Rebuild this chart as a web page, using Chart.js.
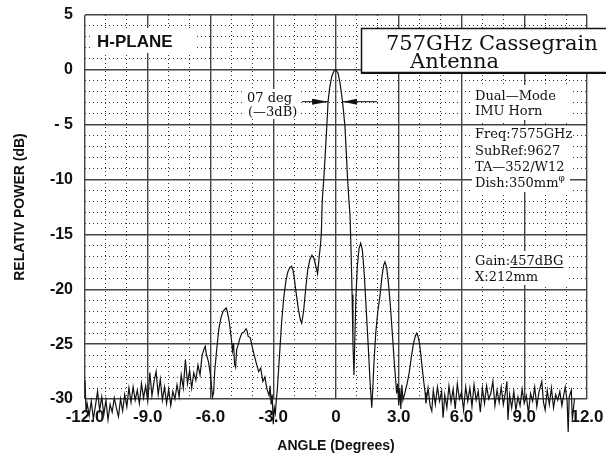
<!DOCTYPE html>
<html>
<head>
<meta charset="utf-8">
<script src="https://cdn.jsdelivr.net/npm/chart.js@4.4.1/dist/chart.umd.min.js"></script>
<style>
  html, body { margin: 0; padding: 0; background: #fff; }
</style>
</head>
<body>
<canvas id="pattern" width="606" height="460"></canvas>
<script>
// ---- data ----
const angleDeg = [
  -12.0, -11.95, -11.9, -11.8, -11.7, -11.6, -11.5, -11.4, -11.3, -11.2, -11.1, -11.0,
  -10.9, -10.8, -10.7, -10.6, -10.5, -10.4, -10.3, -10.2, -10.1, -10.0,
  -9.9, -9.8, -9.7, -9.6, -9.5, -9.4, -9.3, -9.2, -9.1, -9.0,
  -8.9, -8.8, -8.7, -8.6, -8.5, -8.4, -8.3, -8.2, -8.1, -8.0,
  -7.9, -7.8, -7.7, -7.6, -7.5, -7.4, -7.3, -7.2, -7.1, -7.0,
  -6.9, -6.8, -6.7, -6.6, -6.5, -6.4, -6.3, -6.25, -6.2, -6.1, -6.0,
  -5.95, -5.9, -5.85, -5.8, -5.7, -5.6, -5.5, -5.4, -5.3, -5.25, -5.2, -5.1, -5.0,
  -4.95, -4.9, -4.85, -4.8, -4.75, -4.7, -4.6, -4.5, -4.4, -4.3, -4.25, -4.2, -4.1, -4.0,
  -3.9, -3.8, -3.7, -3.6, -3.5, -3.4, -3.3, -3.2, -3.15, -3.1, -3.05, -3.0,
  -2.95, -2.9, -2.85, -2.8, -2.7, -2.6, -2.5, -2.4, -2.3, -2.2, -2.12, -2.05, -2.0,
  -1.9, -1.8, -1.7, -1.64, -1.55, -1.45, -1.35, -1.25, -1.15, -1.05,
  -0.95, -0.88, -0.8, -0.74, -0.7, -0.66, -0.58, -0.5, -0.43, -0.38, -0.3, -0.2, -0.1,
  0.0, 0.1, 0.2, 0.3, 0.35, 0.43, 0.55, 0.62, 0.67, 0.72, 0.77, 0.81, 0.86,
  0.9, 0.95, 1.02, 1.1, 1.18, 1.26, 1.35, 1.45, 1.55, 1.63, 1.71, 1.76, 1.82, 1.9,
  2.0, 2.1, 2.2, 2.28, 2.34, 2.42, 2.5, 2.6, 2.7, 2.8, 2.9, 2.95,
  3.0, 3.05, 3.1, 3.15, 3.2, 3.3, 3.4, 3.5, 3.6, 3.7, 3.8, 3.86, 3.92,
  4.0, 4.1, 4.2, 4.26, 4.3, 4.4, 4.5, 4.58, 4.65, 4.75, 4.85, 4.95,
  5.05, 5.12, 5.2, 5.3, 5.4, 5.5, 5.6, 5.7, 5.8, 5.9,
  6.0, 6.1, 6.2, 6.3, 6.4, 6.5, 6.6, 6.7, 6.8, 6.9,
  7.0, 7.1, 7.2, 7.3, 7.4, 7.5, 7.6, 7.7, 7.8, 7.9,
  8.0, 8.1, 8.17, 8.22, 8.3, 8.4, 8.5, 8.6, 8.7, 8.8, 8.9,
  9.0, 9.1, 9.2, 9.3, 9.4, 9.5, 9.6, 9.7, 9.84, 9.92,
  10.0, 10.1, 10.2, 10.3, 10.4, 10.5, 10.6, 10.7, 10.8, 10.9, 10.96,
  11.05, 11.1, 11.15, 11.25, 11.3, 11.4
];
const powerDb = [
  -28.3, -31.2, -30.4, -31.5, -30.2, -31.8, -30.6, -29.3, -31.0, -29.8, -31.4, -30.1,
  -31.9, -30.5, -31.2, -29.9, -30.8, -31.6, -30.0, -31.1, -29.6, -30.7,
  -29.0, -30.3, -28.9, -30.1, -29.2, -30.4, -28.6, -29.9, -28.8, -30.2,
  -27.6, -29.7, -28.4, -27.5, -29.6, -28.2, -30.1, -28.9, -30.4, -29.1,
  -30.6, -29.3, -30.0, -28.7, -29.8, -27.8, -29.0, -26.4, -28.6, -27.4,
  -29.0, -27.6, -28.3, -26.9, -27.8, -26.0, -25.4, -25.2, -25.9, -26.6, -27.8,
  -28.9, -29.8, -29.4, -27.5, -25.4, -23.6, -22.6, -22.0, -21.8, -21.7, -22.0, -23.0, -24.6,
  -25.6, -24.9, -26.8, -27.1, -25.5, -25.2, -24.5, -24.0, -23.9, -23.6, -23.8, -24.3, -24.4, -25.3,
  -26.1, -26.8, -27.5, -27.2, -28.4, -28.0, -29.1, -29.7, -28.8, -30.5, -29.6, -32.3,
  -30.8, -31.3, -30.0, -29.0, -26.0, -23.0, -20.8, -19.3, -18.4, -18.0, -17.9, -18.3, -18.9,
  -20.4, -21.8, -22.8, -23.1, -22.0, -20.0, -18.2, -17.3, -16.9, -17.2,
  -18.0, -18.6, -17.0, -15.9, -14.9, -12.0, -9.8, -7.2, -4.8, -2.9, -1.6, -0.6, -0.1,
  0.0, -0.3, -1.3, -2.7, -3.6, -5.2, -9.8, -12.0, -13.2, -16.5, -20.5, -24.9, -27.8,
  -24.5, -20.8, -17.9, -16.3, -15.8, -16.4, -18.6, -22.0, -25.5, -28.5, -30.8, -29.0, -26.5, -24.0,
  -22.0, -20.6, -18.8, -17.8, -17.5, -18.0, -19.3, -21.5, -24.2, -27.0, -29.5, -28.6,
  -30.6, -29.0, -30.9, -28.7, -30.1, -29.4, -28.6, -27.6, -26.2, -25.0, -24.2, -24.0, -24.3,
  -25.0, -26.8, -28.5, -29.4, -30.4, -29.0, -30.6, -31.1, -29.2, -30.5, -28.9, -30.2,
  -29.3, -31.7, -29.6, -30.8, -28.8, -30.3, -29.1, -30.9, -28.6, -30.0,
  -29.4, -31.0, -28.9, -30.2, -29.0, -30.7, -28.7, -30.1, -29.3, -31.2,
  -29.0, -30.4, -28.8, -30.0, -29.5, -28.4, -30.6, -29.2, -30.3, -28.9,
  -30.5, -29.4, -28.4, -31.9, -29.6, -30.8, -29.3, -31.0, -29.8, -30.6, -29.1,
  -30.4, -29.7, -31.3, -29.5, -30.2, -28.9, -30.7, -29.4, -28.4, -30.3,
  -31.0, -29.2, -30.5, -29.0, -30.8, -29.6, -30.1, -29.3, -30.6, -29.5, -28.9,
  -30.2, -33.0, -29.8, -29.2, -31.9, -30.0
];
const xTickValues = [-12, -9, -6, -3, 0, 3, 6, 9, 12];
const xTickLabels = ['-12.0', '-9.0', '-6.0', '-3.0', '0', '3.0', '6.0', '9.0', '12.0'];
const yTickValues = [5, 0, -5, -10, -15, -20, -25, -30];
const yTickLabels = ['5', '0', '- 5', '-10', '-15', '-20', '-25', '-30'];

const sans = 'Arial, "Liberation Sans", sans-serif';
const serif = '"DejaVu Serif", "Liberation Serif", serif';

// text blocks printed on the plot
const notesPlugin = {
  id: 'notes',
  beforeDatasetsDraw(chart) {
    const c = chart.ctx;
    c.save();
    c.fillStyle = '#fff';
    c.fillRect(93, 28, 102, 25);    // H-PLANE
    c.fillRect(245, 89, 54, 30);    // 07 deg
    c.fillRect(472, 85, 98, 35);    // Dual-Mode
    c.fillRect(472, 126, 98, 66);   // Freq...
    c.fillRect(472, 251, 96, 34);   // Gain
    c.restore();
  },
  afterDatasetsDraw(chart) {
    const c = chart.ctx;
    const { x, y } = chart.scales;
    c.save();

    c.fillStyle = '#111';
    c.font = 'bold 17px ' + sans;
    c.textBaseline = 'alphabetic';
    c.fillText('H-PLANE', 97, 47);

    // title box
    c.fillStyle = '#fff';
    c.fillRect(361, 28, 250, 45);
    c.strokeStyle = '#111';
    c.lineWidth = 1.5;
    c.strokeRect(361.5, 28.5, 250, 44);
    c.fillStyle = '#111';
    c.fillRect(361, 72, 250, 2);
    c.font = '21px ' + serif;
    c.fillText('757GHz Cassegrain', 386, 50);
    c.fillText('Antenna', 410, 68);

    c.font = '13px ' + serif;
    c.fillText('07 deg', 247, 102);
    c.fillText('(\u20143dB)', 248, 116);
    c.fillText('Dual\u2014Mode', 475, 100);
    c.fillText('IMU Horn', 475, 115);
    c.fillText('Freq:7575GHz', 475, 138);
    c.fillText('SubRef:9627', 475, 155);
    c.fillText('TA\u2014352\u2215W12', 475, 171);
    c.fillText('Dish:350mm', 475, 187);
    const dw = c.measureText('Dish:350mm').width;
    c.font = '9px ' + serif;
    c.fillText('\u03c6', 475 + dw, 181);
    c.font = '13px ' + serif;
    c.fillText('Gain:', 475, 265);
    const gw = c.measureText('Gain:').width;
    c.fillText('457dBG', 475 + gw, 265);
    const vw = c.measureText('457dBG').width;
    c.fillRect(475 + gw, 267, vw, 1);
    c.fillText('X:212mm', 475, 281);

    // -3 dB beamwidth arrows
    const ay = y.getPixelForValue(-2.9);
    const lt = x.getPixelForValue(-0.38), rt = x.getPixelForValue(0.33);
    c.lineWidth = 1;
    c.beginPath();
    c.moveTo(302, ay); c.lineTo(lt, ay);
    c.moveTo(rt, ay); c.lineTo(377, ay);
    c.stroke();
    c.beginPath();
    c.moveTo(lt, ay); c.lineTo(lt - 16, ay - 3); c.lineTo(lt - 16, ay + 3); c.closePath();
    c.moveTo(rt, ay); c.lineTo(rt + 14, ay - 3); c.lineTo(rt + 14, ay + 3); c.closePath();
    c.fill();
    c.restore();
  }
};

const points = angleDeg.map((a, i) => ({ x: a, y: powerDb[i] }));

new Chart(document.getElementById('pattern'), {
  type: 'scatter',
  data: {
    datasets: [{
      data: points,
      showLine: true,
      borderColor: '#111',
      borderWidth: 1.2,
      pointRadius: 0,
      tension: 0,
      clip: false
    }]
  },
  options: {
    responsive: false,
    animation: false,
    layout: { padding: { top: 15, right: 19, left: 0, bottom: 0 } },
    plugins: { legend: { display: false }, tooltip: { enabled: false } },
    scales: {
      x: {
        type: 'linear', min: -12, max: 12,
        afterBuildTicks: s => { s.ticks = xTickValues.map(v => ({ value: v })); },
        afterFit: s => { s.height = 61; s.paddingLeft = 0; s.paddingRight = 0; },
        ticks: {
          padding: 8, color: '#111',
          font: { family: sans, size: 17, weight: 'bold' },
          callback: v => xTickLabels[xTickValues.indexOf(v)]
        },
        grid: { color: '#444', lineWidth: 1.4, drawTicks: false },
        border: { display: false },
        title: {
          display: true, text: 'ANGLE (Degrees)', color: '#111',
          font: { family: sans, size: 14, weight: 'bold' },
          padding: { top: 0, bottom: 5 }
        }
      },
      y: {
        type: 'linear', min: -30, max: 5,
        afterBuildTicks: s => { s.ticks = yTickValues.map(v => ({ value: v })); },
        afterFit: s => { s.width = 85; s.paddingTop = 0; s.paddingBottom = 0; },
        ticks: {
          padding: 12, color: '#111',
          font: { family: sans, size: 16, weight: 'bold' },
          callback: v => yTickLabels[yTickValues.indexOf(v)]
        },
        grid: { color: '#444', lineWidth: 1.4, drawTicks: false },
        border: { display: false },
        title: {
          display: true, text: 'RELATIV POWER (dB)', color: '#111',
          font: { family: sans, size: 14, weight: 'bold' },
          padding: { top: 12, bottom: 0 }
        }
      },
      xMinor: {
        type: 'linear', position: 'bottom', min: -12, max: 12,
        ticks: { display: false, stepSize: 1 },
        afterFit: s => { s.height = 0; s.paddingLeft = 0; s.paddingRight = 0; },
        grid: {
          drawTicks: false, lineWidth: 1,
          color: ctx => (ctx.tick && ctx.tick.value % 3 === 0) ? 'rgba(0,0,0,0)' : '#333'
        },
        border: { display: false, dash: [1, 3] }
      },
      yMinor: {
        type: 'linear', position: 'left', min: -30, max: 5,
        ticks: { display: false, stepSize: 1 },
        afterFit: s => { s.width = 0; s.paddingTop = 0; s.paddingBottom = 0; },
        grid: {
          drawTicks: false, lineWidth: 1,
          color: ctx => (ctx.tick && ctx.tick.value % 5 === 0) ? 'rgba(0,0,0,0)' : '#333'
        },
        border: { display: false, dash: [1, 3] }
      }
    }
  },
  plugins: [notesPlugin]
});
</script>
</body>
</html>
